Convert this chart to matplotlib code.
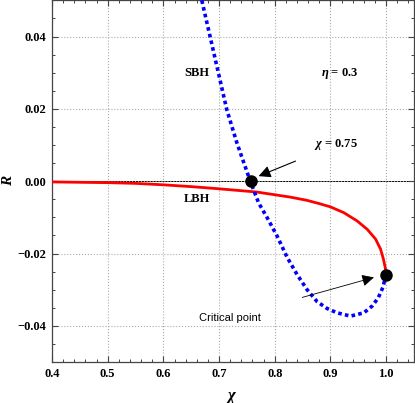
import matplotlib
matplotlib.use("Agg")
import matplotlib.pyplot as plt
from matplotlib.ticker import MultipleLocator

# LBH branch (red, solid)
lbh_x = [0.40, 0.45, 0.50, 0.55, 0.60, 0.65, 0.70, 0.738, 0.768, 0.798, 0.828, 0.858,
         0.880, 0.900, 0.924, 0.948, 0.966, 0.981, 0.990, 0.995, 0.9985, 1.0]
lbh_r = [-0.0002, -0.0003, -0.0004, -0.0006, -0.0010, -0.0015, -0.0021, -0.0026, -0.0030,
         -0.0037, -0.0044, -0.0053, -0.0062, -0.0071, -0.0087, -0.0110, -0.0133, -0.0160,
         -0.0188, -0.0215, -0.0240, -0.0258]

# SBH branch (blue, dotted)
sbh_x = [0.669, 0.684, 0.699, 0.714, 0.732, 0.756, 0.771, 0.786, 0.804, 0.822, 0.840,
         0.858, 0.876, 0.894, 0.912, 0.936, 0.960, 0.975, 0.986, 0.994, 1.0]
sbh_r = [0.050, 0.0399, 0.0298, 0.0197, 0.0106, 0.0, -0.0060, -0.0100, -0.0151, -0.0210,
         -0.0258, -0.0300, -0.0333, -0.0352, -0.0364, -0.0373, -0.0364, -0.0345, -0.0322,
         -0.0294, -0.0258]

# special points
pts_x = [0.757, 1.0]
pts_r = [0.0, -0.0258]

serif = "Liberation Serif"
plt.rcParams["mathtext.fontset"] = "custom"
plt.rcParams["mathtext.it"] = "Liberation Serif:italic:bold"
plt.rcParams["mathtext.rm"] = "Liberation Serif:bold"
plt.rcParams["mathtext.bf"] = "Liberation Serif:bold"

fig = plt.figure(figsize=(4.15, 4.03), dpi=100)
ax = fig.add_axes([0.1253, 0.1017, 0.8723, 0.8973])

ax.axhline(0.0, color="black", lw=0.7, zorder=1)
ax.plot(lbh_x, lbh_r, color="#ff0000", lw=2.0, zorder=3)
ax.plot(sbh_x, sbh_r, color="#0000ff", lw=2.6, ls=(0, (1.0, 0.9)), zorder=3)
ax.plot(pts_x, pts_r, "o", color="black", ms=8, zorder=5)

ax.set_xlim(0.4, 1.05)
ax.set_ylim(-0.05, 0.05)
ax.xaxis.set_minor_locator(MultipleLocator(0.02))
ax.yaxis.set_minor_locator(MultipleLocator(0.005))
ax.set_xticks([0.4, 0.5, 0.6, 0.7, 0.8, 0.9, 1.0])
ax.set_xticklabels(["0.4", "0.5", "0.6", "0.7", "0.8", "0.9", "1.0"])
ax.set_yticks([-0.04, -0.02, 0.0, 0.02, 0.04])
ax.set_yticklabels(["\u22120.04", "\u22120.02", "0.00", "0.02", "0.04"])
ax.tick_params(which="both", direction="in", top=True, right=True, color="#444444")
ax.tick_params(which="major", length=4, width=0.8, pad=4)
ax.tick_params(which="minor", length=2.5, width=0.7)
for lab in ax.get_xticklabels() + ax.get_yticklabels():
    lab.set_fontfamily(serif)
    lab.set_fontweight("bold")
    lab.set_fontsize(9)
for sp in ax.spines.values():
    sp.set_color("#444444")
    sp.set_linewidth(0.9)
ax.grid(True, which="major", ls=":", color="#aaaaaa", lw=0.8)

ax.set_xlabel("\u03c7", fontfamily=serif, fontweight="bold", fontstyle="italic",
              fontsize=12)
ax.set_ylabel("R", fontfamily=serif, fontweight="bold", fontstyle="italic",
              fontsize=11)
ax.xaxis.set_label_coords(0.497, -0.072)
ax.yaxis.set_label_coords(-0.103, 0.5)

ax.text(0.660, 0.030, "SBH", fontfamily=serif, fontweight="bold", fontsize=9,
        ha="center", va="center")
ax.text(0.660, -0.0048, "LBH", fontfamily=serif, fontweight="bold", fontsize=9,
        ha="center", va="center")
ax.text(0.916, 0.0298, "$\\eta$ = 0.3", fontfamily=serif, fontweight="bold", fontsize=9,
        ha="center", va="center")

ax.annotate("$\\chi$ = 0.75", xy=(0.771, 0.0014), xytext=(0.870, 0.0101),
            fontfamily=serif, fontweight="bold", fontsize=9, ha="left", va="center",
            arrowprops=dict(arrowstyle="-|>", color="black", lw=0.8,
                            mutation_scale=18, shrinkA=12, shrinkB=0))
ax.annotate("Critical point", xy=(0.978, -0.0266), xytext=(0.72, -0.0377),
            fontfamily="Liberation Sans", fontsize=8, ha="center", va="center",
            arrowprops=dict(arrowstyle="-|>", color="black", lw=0.6,
                            mutation_scale=18, shrinkA=33, shrinkB=0))

fig.savefig("out.png", dpi=100)
